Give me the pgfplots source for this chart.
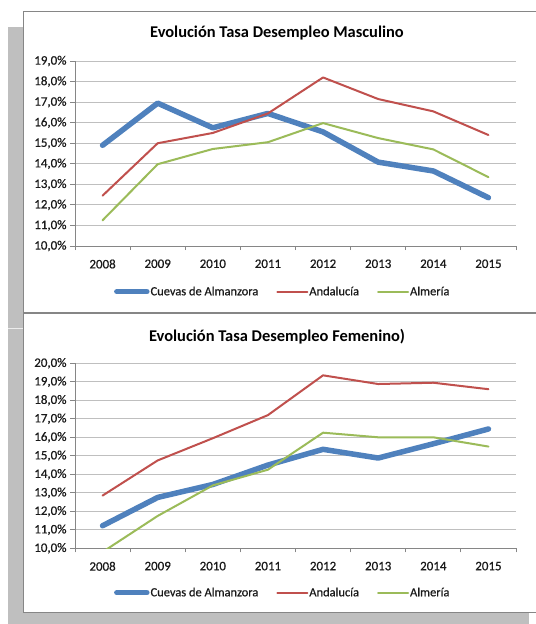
\documentclass[border=0pt]{standalone}
\usepackage{fontspec}
\setmainfont{Carlito}
\newfontfamily\semib[FakeBold=0.6]{Carlito}
\usepackage{pgfplots}
\pgfplotsset{compat=1.18}
\definecolor{cblue}{HTML}{4F81BD}
\definecolor{cred}{HTML}{C0504D}
\definecolor{cgreen}{HTML}{9BBB59}
\definecolor{gridc}{HTML}{BFBFBF}
\definecolor{axc}{HTML}{868686}
\definecolor{shadowc}{HTML}{BFBFBF}
\definecolor{txt}{HTML}{1A1A1A}

\pgfplotsset{
 mystyle/.style={
  scale only axis, width=441bp, height=185bp,
  xmin=-0.5, xmax=7.5, xtick={0,...,7},
  xticklabels={2008,2009,2010,2011,2012,2013,2014,2015},
  minor xtick={-0.5,0.5,...,7.5},
  major x tick style={draw=none},
  minor x tick style={draw=axc, line width=0.8bp},
  tick align=outside, minor tick length=4bp, major tick length=5bp,
  ytick style={draw=axc, line width=0.8bp},
  axis x line*=bottom, axis y line*=left,
  axis line style={draw=axc, line width=0.8bp, -},
  ymajorgrids, grid style={draw=gridc, line width=0.8bp},
  /pgf/number format/assume math mode=true,
  ticklabel style={font=\semib\fontsize{13}{15}\selectfont, text=txt},
  xticklabel style={yshift=-5bp},
  title style={anchor=center, font=\bfseries\fontsize{16.5}{19}\selectfont, text=black},
  legend style={anchor=center, draw=none, fill=none, font=\semib\fontsize{12.5}{15}\selectfont, text=txt,
     legend columns=-1, /tikz/every even column/.append style={column sep=17bp},
     nodes={inner xsep=1bp}},
  legend image code/.code={\draw[##1] (0bp,0bp) -- (30bp,0bp);},
  every axis plot/.append style={line join=round, line cap=round},
  clip=true,
 }
}

\begin{document}
\begin{tikzpicture}
\useasboundingbox (0,0) rectangle (536bp,-624bp);
\fill[shadowc] (8bp,-27bp) rectangle (529bp,-624bp);
\filldraw[fill=white, draw=axc, line width=1bp] (23.5bp,-11bp) rectangle (545bp,-312bp);
\filldraw[fill=white, draw=axc, line width=1bp] (23.5bp,-313.5bp) rectangle (545bp,-612.5bp);
\draw[white!70!shadowc, line width=0.8bp] (8bp,-328bp) -- (23bp,-328bp);

\begin{axis}[mystyle, at={(75bp,-246bp)}, anchor=south west,
  ymin=10, ymax=19, ytick={10,...,19},
  yticklabels={{10,0\%},{11,0\%},{12,0\%},{13,0\%},{14,0\%},{15,0\%},{16,0\%},{17,0\%},{18,0\%},{19,0\%}},
  title={Evolución Tasa Desempleo Masculino},
  title style={at={(axis description cs:0.458,1.12)}},
  legend style={at={(axis description cs:0.47,-0.247)}},
]
\addplot[cblue, line width=5.5bp] coordinates {(0,14.9) (1,16.95) (2,15.75) (3,16.45) (4,15.55) (5,14.08) (6,13.65) (7,12.35)};
\addlegendentry{Cuevas de Almanzora}
\addplot[cred, line width=2bp] coordinates {(0,12.45) (1,15.0) (2,15.5) (3,16.45) (4,18.2) (5,17.15) (6,16.55) (7,15.4)};
\addlegendentry{Andalucía}
\addplot[cgreen, line width=2bp] coordinates {(0,11.25) (1,13.98) (2,14.72) (3,15.05) (4,15.98) (5,15.25) (6,14.7) (7,13.35)};
\addlegendentry{Almería}
\end{axis}

\begin{axis}[mystyle, at={(75bp,-548.3bp)}, anchor=south west,
  ymin=10, ymax=20, ytick={10,...,20},
  yticklabels={{10,0\%},{11,0\%},{12,0\%},{13,0\%},{14,0\%},{15,0\%},{16,0\%},{17,0\%},{18,0\%},{19,0\%},{20,0\%}},
  title={Evolución Tasa Desempleo Femenino)},
  title style={at={(axis description cs:0.458,1.11)}},
  legend style={at={(axis description cs:0.47,-0.24)}},
]
\addplot[cblue, line width=5.5bp] coordinates {(0,11.22) (1,12.75) (2,13.45) (3,14.5) (4,15.35) (5,14.88) (6,15.65) (7,16.45)};
\addlegendentry{Cuevas de Almanzora}
\addplot[cred, line width=2bp] coordinates {(0,12.85) (1,14.75) (2,15.95) (3,17.2) (4,19.35) (5,18.88) (6,18.95) (7,18.6)};
\addlegendentry{Andalucía}
\addplot[cgreen, line width=2bp] coordinates {(0,9.8) (1,11.75) (2,13.4) (3,14.25) (4,16.25) (5,16.0) (6,16.0) (7,15.5)};
\addlegendentry{Almería}
\end{axis}
\end{tikzpicture}
\end{document}
